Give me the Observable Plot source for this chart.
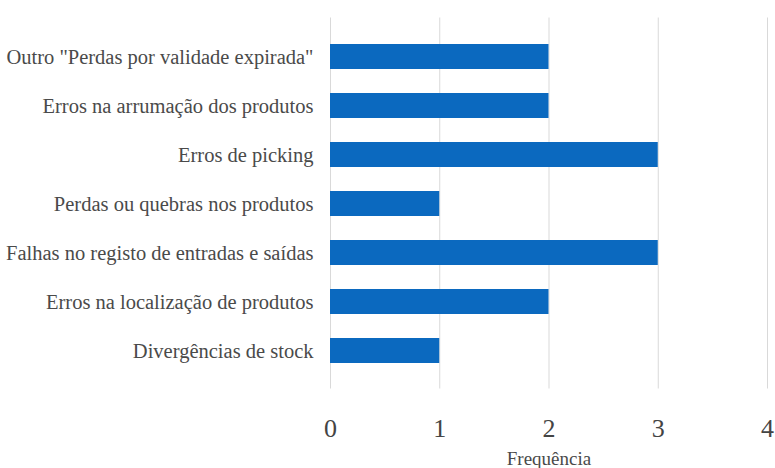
<!DOCTYPE html>
<html>
<head>
<meta charset="utf-8">
<script src="https://cdn.jsdelivr.net/npm/d3@7"></script>
<script src="https://cdn.jsdelivr.net/npm/@observablehq/plot@0.6"></script>
<style>
  html, body { margin: 0; padding: 0; background: #fff; }
  #chart { width: 775px; height: 468px; overflow: hidden; font-family: 'Liberation Serif', serif; }
</style>
</head>
<body>
<div id="chart"></div>
<script>
const categories = [
  "Outro \"Perdas por validade expirada\"",
  "Erros na arrumação dos produtos",
  "Erros de picking",
  "Perdas ou quebras nos produtos",
  "Falhas no registo de entradas e saídas",
  "Erros na localização de produtos",
  "Divergências de stock"
];
const values = [2, 2, 3, 1, 3, 2, 1];
const xTicks = [0, 1, 2, 3, 4];
const xTitle = ["Frequência"];

const serif = "'Liberation Serif', 'Times New Roman', serif";
const data = categories.map((c, i) => ({category: c, value: values[i]}));

const chart = Plot.plot({
  width: 775,
  height: 468,
  marginLeft: 330,
  marginRight: 8,
  marginTop: 17.5,
  marginBottom: 79.5,
  style: {fontFamily: serif, color: "#444", background: "#fff"},
  x: {domain: [0, 4], ticks: xTicks, tickFormat: "d", label: null},
  y: {domain: categories, label: null, padding: 0.5},
  marks: [
    Plot.gridX(xTicks, {stroke: "#d9d9d9", strokeOpacity: 1, strokeWidth: 1}),
    Plot.barX(data, {x: "value", y: "category", fill: "#0b69bf"}),
    Plot.axisY({tickSize: 0, tickPadding: 17, fontSize: 20.5, fontFamily: serif, fill: "#4a4a4a"}),
    Plot.axisX({ticks: xTicks, tickFormat: "d", tickSize: 0, tickPadding: 30, fontSize: 26, fontFamily: serif, fill: "#444", label: null}),
    Plot.text(xTitle, {frameAnchor: "bottom", dy: 76, text: d => d, fontSize: 19, fontFamily: serif, fill: "#4a4a4a"})
  ]
});
document.getElementById("chart").appendChild(chart);
</script>
</body>
</html>
